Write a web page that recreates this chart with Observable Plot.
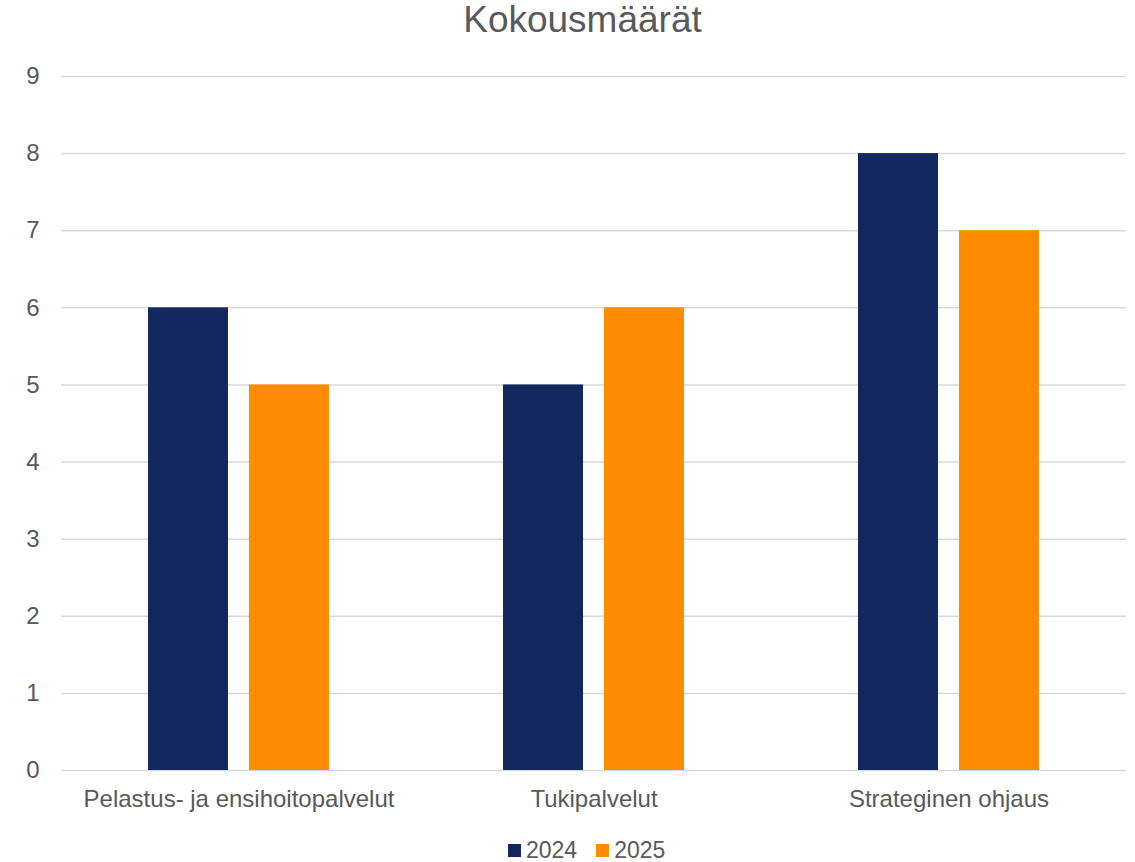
<!DOCTYPE html>
<html><head><meta charset="utf-8">
<script src="https://cdn.jsdelivr.net/npm/d3@7"></script>
<script src="https://cdn.jsdelivr.net/npm/@observablehq/plot@0.6"></script>
<style>
body{margin:0;background:#fff;font-family:"Liberation Sans",Arial,sans-serif;}
#wrap{position:relative;width:1135px;height:862px;overflow:hidden;}
#title{position:absolute;top:0;left:15px;width:1135px;text-align:center;font-size:37px;line-height:40px;height:41px;color:#595959;}
#chart{position:absolute;top:41px;left:0;}
#legend{position:absolute;top:838px;left:508px;height:24px;display:flex;align-items:center;font-size:23px;color:#595959;white-space:nowrap;}
.sw{display:inline-block;width:13px;height:13px;margin-right:5px;}
.item{display:flex;align-items:center;margin-right:19px;}
</style>
</head><body>
<div id="wrap">
  <div id="title">Kokousmäärät</div>
  <div id="chart"></div>
  <div id="legend"></div>
</div>
<script>
const categories = ["Pelastus- ja ensihoitopalvelut", "Tukipalvelut", "Strateginen ohjaus"];
const years = ["2024", "2025"];
const values2024 = [6, 5, 8];
const values2025 = [5, 6, 7];
const colors = ["#12285F", "#FF8C00"];
const yTicks = [0, 1, 2, 3, 4, 5, 6, 7, 8, 9];

const data = [];
categories.forEach((c, i) => {
  data.push({cat: c, year: years[0], value: values2024[i]});
  data.push({cat: c, year: years[1], value: values2025[i]});
});

const chart = Plot.plot({
  width: 1135, height: 797,
  marginTop: 35, marginBottom: 68, marginLeft: 60, marginRight: 8,
  style: {fontFamily: "'Liberation Sans', Arial, sans-serif", background: "white", color: "#595959"},
  fx: {domain: categories, padding: 0, label: null, axis: null},
  x: {domain: years, paddingInner: 0.21, paddingOuter: 0.85, axis: null},
  y: {domain: [0, 9], axis: null},
  color: {domain: years, range: colors},
  marks: [
    Plot.ruleY(yTicks, {stroke: "#d9d9d9", strokeWidth: 1.5}),
    Plot.barY(data, {fx: "cat", x: "year", y: "value", fill: "year"}),
    Plot.axisFx({anchor: "bottom", tickSize: 0, tickPadding: 19, fontSize: 24, label: null, fill: "#595959"}),
    Plot.axisY({ticks: yTicks, tickSize: 0, tickPadding: 22, fontSize: 24, label: null, fill: "#595959", tickFormat: d => String(d)})
  ]
});
document.getElementById("chart").appendChild(chart);

const legend = document.getElementById("legend");
years.forEach((y, i) => {
  const it = document.createElement("div");
  it.className = "item";
  const sw = document.createElement("span");
  sw.className = "sw";
  sw.style.background = colors[i];
  it.appendChild(sw);
  it.appendChild(document.createTextNode(y));
  legend.appendChild(it);
});
</script>
</body></html>
